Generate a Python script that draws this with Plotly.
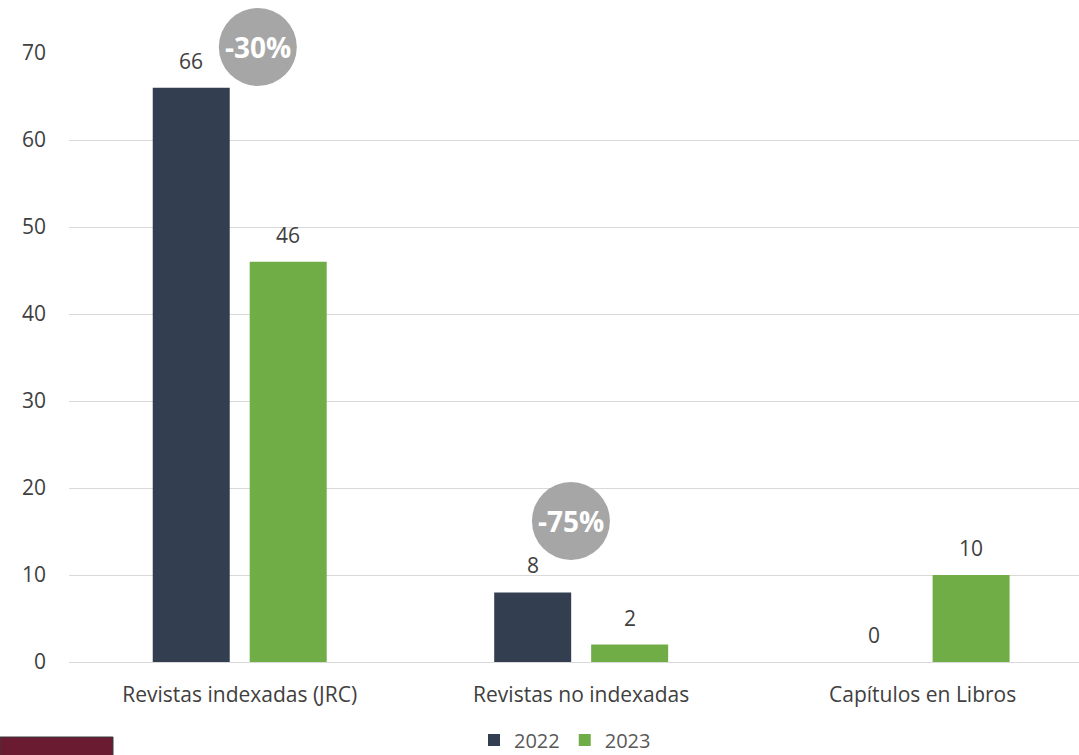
import plotly.graph_objects as go

categories = ["Revistas indexadas (JRC)", "Revistas no indexadas", "Capítulos en Libros"]
years = ["2022", "2023"]
values_2022 = [66, 8, 0]
values_2023 = [46, 2, 10]
colors = {"2022": "#333F50", "2023": "#70AD47"}
y_ticks = [0, 10, 20, 30, 40, 50, 60, 70]
badge_text = ["-30%", "-75%"]

W, H = 1079, 755
ML, MR, MT, MB = 69, 0, 53, 93
PW = W - ML - MR
PH = H - MT - MB

fig = go.Figure()
series = {"2022": values_2022, "2023": values_2023}
for yr in years:
    fig.add_trace(go.Bar(
        name=yr, x=categories, y=series[yr],
        marker=dict(color=colors[yr], line=dict(width=0)),
        cliponaxis=False,
    ))

annotations = []
offsets = {"2022": -48.5, "2023": 48.5}
for yr in years:
    for c, v in zip(categories, series[yr]):
        annotations.append(dict(
            x=c, y=v, xref="x", yref="y", text=str(v), showarrow=False,
            xshift=offsets[yr], yshift=27, xanchor="center", yanchor="middle",
            font=dict(family="Open Sans", size=21, color="#404040"),
        ))

# percentage-change badges (position: x in category units, y in paper units)
badge_pos = [(0.053, (H - MB - 47) / PH), (0.97, (H - MB - 521) / PH)]
shapes = []
for txt, (bx, by) in zip(badge_text, badge_pos):
    shapes.append(dict(
        type="circle", xref="x", yref="paper", xsizemode="pixel", ysizemode="pixel",
        xanchor=bx, yanchor=by, x0=-39, x1=39, y0=-39, y1=39,
        fillcolor="#A6A6A6", line=dict(width=0), layer="above",
    ))
    annotations.append(dict(
        x=bx, y=by, xref="x", yref="paper", xanchor="center", yanchor="middle",
        text="<b>%s</b>" % txt, showarrow=False, yshift=0,
        font=dict(family="Open Sans", size=28, color="white"),
    ))

# maroon block bottom-left
shapes.append(dict(
    type="rect", xref="paper", yref="paper",
    x0=(0 - ML) / PW, x1=(113 - ML) / PW,
    y0=(H - MB - 757) / PH, y1=(H - MB - 737) / PH,
    fillcolor="#6A1B31", line=dict(color="#3a3a3a", width=1),
))

fig.update_layout(
    width=W, height=H,
    margin=dict(l=ML, r=MR, t=MT, b=MB, pad=0, autoexpand=False),
    paper_bgcolor="white", plot_bgcolor="white",
    barmode="group", bargap=0.432, bargroupgap=0.206,
    showlegend=True,
    legend=dict(
        orientation="h", x=(565 - ML) / PW, xanchor="center",
        y=(H - MB - 740) / PH, yanchor="middle",
        font=dict(family="Open Sans", size=20, color="#595959"),
        itemwidth=30, tracegroupgap=0, bgcolor="rgba(0,0,0,0)",
    ),
    xaxis=dict(
        range=[-0.5, 2.458], showgrid=False, showline=False, ticks="",
        tickfont=dict(family="Open Sans", size=21, color="#404040"),
        ticklabelstandoff=18,
    ),
    yaxis=dict(
        range=[0, 70], tickvals=y_ticks, showgrid=True, gridcolor="#D9D9D9", gridwidth=1,
        zeroline=True, zerolinecolor="#D9D9D9", zerolinewidth=1,
        showline=False, ticks="",
        tickfont=dict(family="Open Sans", size=21, color="#404040"),
        ticklabelstandoff=22,
    ),
    shapes=shapes, annotations=annotations,
    font=dict(family="Open Sans"),
)

fig.write_html("out.html")
